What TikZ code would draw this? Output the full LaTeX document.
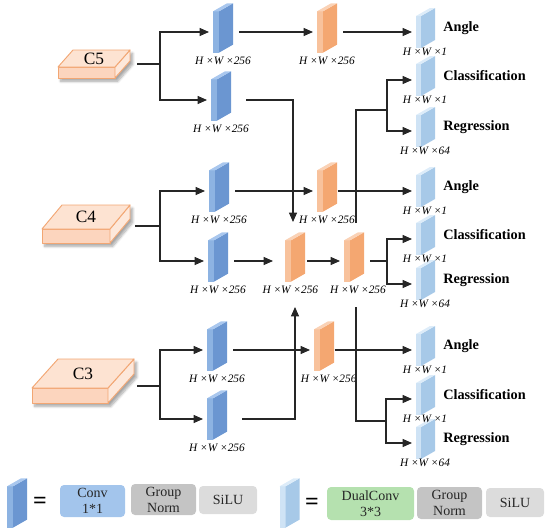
\documentclass[tikz,border=0pt]{standalone}
\usepackage{fontspec}
\setmainfont{Liberation Serif}
\usetikzlibrary{arrows.meta,positioning,calc,shadows.blur}

\definecolor{convfront}{HTML}{8DB3E2}
\definecolor{convside}{HTML}{6B96D1}
\definecolor{convtop}{HTML}{A9C7EE}
\definecolor{fusefront}{HTML}{F8C29C}
\definecolor{fuseside}{HTML}{F4A771}
\definecolor{fusetop}{HTML}{FAD2B6}
\definecolor{headfront}{HTML}{CFE3F5}
\definecolor{headside}{HTML}{A7C9E8}
\definecolor{headtop}{HTML}{DDECF9}
\definecolor{mapedge}{HTML}{F2A673}
\definecolor{maptop}{HTML}{FDE3D2}
\definecolor{mapfront}{HTML}{FCD5BE}
\definecolor{mapside}{HTML}{FDE8DB}
\definecolor{convfill}{HTML}{A3C5EC}
\definecolor{dualfill}{HTML}{B5E1AF}
\definecolor{normfill}{HTML}{C4C4C4}
\definecolor{silufill}{HTML}{DCDCDC}

\tikzset{
  link/.style={draw=black!85, line width=0.8pt},
  arr/.style={link, -{Triangle[length=7pt,width=6pt]}, shorten >=3pt},
  from slab/.style={shorten <=#1},
  from slab/.default=15pt,
  thin slab/.style={minimum width=4.5pt, minimum height=31pt},
  head slab/.style={minimum width=3.75pt, minimum height=24pt},
  slabface/.style={inner sep=0pt, outer sep=0pt, fill=#1front},
  dimlbl/.style={font=\fontsize{8.5}{10}\selectfont\itshape, inner sep=0pt, xshift=3pt},
  headlbl/.style={font=\fontsize{10.7}{12}\selectfont\bfseries, inner sep=0pt, yshift=3pt},
  maplbl/.style={font=\fontsize{13}{14}\selectfont, inner sep=0pt},
  mapface/.style={draw=mapedge, line width=0.7pt, line join=round},
  legbox/.style={rounded corners=3pt, align=center, inner sep=0pt,
    font=\fontsize{10.5}{12}\selectfont, text=black!85},
  eqsign/.style={font=\fontsize{18}{18}\selectfont\bfseries},
}

% thin 3D slab: name, front-face centre, colour set, size style
\newcommand{\slab}[4]{%
  \node[slabface=#3, #4] (#1) at (#2) {};
  \fill[#3side] (#1.north east) -- ++(14,-8) -- ([shift={(14,-8)}]#1.south east) -- (#1.south east) -- cycle;
  \fill[#3top] (#1.north west) -- ++(14,-8) -- ([shift={(14,-8)}]#1.north east) -- (#1.north east) -- cycle;
}

% backbone feature map: name, front top-left, width, thickness, depth x, depth y, text
\newcommand{\featmap}[7]{%
  \path (#2) coordinate (#1A) ++(#3,0) coordinate (#1B) ++(#5,#6) coordinate (#1Bk) ++(0,#4) coordinate (#1Ck);
  \path (#2) ++(#5,#6) coordinate (#1Ak);
  \path (#2) ++(0,#4) coordinate (#1D);
  \path (#1B) ++(0,#4) coordinate (#1C);
  \fill[white, blur shadow={shadow xshift=2pt, shadow yshift=-2.5pt, shadow blur steps=8, shadow opacity=35}]
    (#1D) -- (#1A) -- (#1Ak) -- (#1Bk) -- (#1Ck) -- (#1C) -- cycle;
  \filldraw[mapface, fill=mapfront] (#1A) rectangle (#1C);
  \filldraw[mapface, fill=mapside] (#1B) -- (#1Bk) -- (#1Ck) -- (#1C) -- cycle;
  \filldraw[mapface, fill=maptop] (#1A) -- (#1Ak) -- (#1Bk) -- (#1B) -- cycle;
  \node[maplbl] (#1) at ($(#1A)!0.5!(#1Bk)$) {#7};
}

\begin{document}
\begin{tikzpicture}[x=0.75pt, y=-0.75pt]
  \useasboundingbox (0,0) rectangle (550,532);

  % backbone maps
  \featmap{c5}{58,67}{57}{11}{15}{-17}{C5}
  \featmap{c4}{42,229}{68}{14}{20}{-24}{C4}
  \featmap{c3}{32,388}{76}{15}{26}{-29}{C3}
  \coordinate (c5 out) at (137,64);
  \coordinate (c4 out) at (135,226);
  \coordinate (c3 out) at (137,386);

  % 1*1 conv slabs
  \slab{b51}{216,32}{conv}{thin slab}
  \slab{b52}{214,100}{conv}{thin slab}
  \slab{b41}{212,191}{conv}{thin slab}
  \slab{b42}{211,261}{conv}{thin slab}
  \slab{b31}{210,350}{conv}{thin slab}
  \slab{b32}{210,419}{conv}{thin slab}

  % fused maps
  \slab{o5}{320,32}{fuse}{thin slab}
  \slab{oT}{320,191}{fuse}{thin slab}
  \slab{oA}{288,261}{fuse}{thin slab}
  \slab{oB}{347,261}{fuse}{thin slab}
  \slab{oC}{317,350}{fuse}{thin slab}

  % head outputs
  \slab{a5}{418.5,32}{head}{head slab}
  \slab{s5}{418.5,80}{head}{head slab}
  \slab{r5}{418.5,131}{head}{head slab}
  \slab{a4}{418.5,191}{head}{head slab}
  \slab{s4}{418.5,239}{head}{head slab}
  \slab{r4}{418.5,284}{head}{head slab}
  \slab{a3}{418.5,350}{head}{head slab}
  \slab{s3}{418.5,399}{head}{head slab}
  \slab{r3}{418.5,443}{head}{head slab}

  % size labels
  \node[dimlbl, below=3pt of b51.south east] (l51) {H ×W ×256};
  \node[dimlbl, below=3pt of b52.south east] (l52) {H ×W ×256};
  \node[dimlbl, below=3pt of b41.south east] (l41) {H ×W ×256};
  \node[dimlbl, below=3pt of b42.south east] (l42) {H ×W ×256};
  \node[dimlbl, below=3pt of b31.south east] (l31) {H ×W ×256};
  \node[dimlbl, below=3pt of b32.south east] (l32) {H ×W ×256};
  \node[dimlbl, below=3pt of o5.south east] (lo5) {H ×W ×256};
  \node[dimlbl, below=3pt of oT.south east] (loT) {H ×W ×256};
  \node[dimlbl, below=3pt of oA.south east, xshift=-3.5pt] (loA) {H ×W ×256};
  \node[dimlbl, below=3pt of oB.south east, xshift=3pt] (loB) {H ×W ×256};
  \node[dimlbl, below=3pt of oC.south east, xshift=3.5pt] (loC) {H ×W ×256};
  \foreach \h/\c in {a5/1, s5/1, r5/64, a4/1, s4/1, r4/64, a3/1, s3/1, r3/64}
    \node[dimlbl, below=0pt of \h.south east] (l\h) {H ×W ×\c};

  % head names
  \foreach \h/\t in {a5/Angle, s5/Classification, r5/Regression,
                     a4/Angle, s4/Classification, r4/Regression,
                     a3/Angle, s3/Classification, r3/Regression}
    \node[headlbl, anchor=west, right=16.5pt of \h] (t\h) {\t};

  % level 5
  \coordinate (j5) at (160,64);
  \draw[link] (c5 out) -- (j5);
  \draw[arr] (j5) |- (b51);
  \draw[arr] (j5) |- (b52);
  \draw[arr, from slab] (b51) -- (o5);
  \draw[arr, from slab] (o5) -- (a5);
  \coordinate (d5) at (293,222);
  \draw[arr, from slab=22pt, shorten >=0pt] (b52) -| (d5);
  \coordinate (u5) at (356,223);
  \coordinate (k5) at (387,110);
  \draw[link] (u5) |- (k5);
  \draw[arr] (k5) |- (s5);
  \draw[arr] (k5) |- (r5);

  % level 4
  \coordinate (j4) at (160,226);
  \draw[link] (c4 out) -- (j4);
  \draw[arr] (j4) |- (b41);
  \draw[arr] (j4) |- (b42);
  \draw[arr, from slab] (b41) -- (oT);
  \draw[arr, from slab=11pt] (oT) -- (a4);
  \draw[arr, from slab, shorten >=9pt] (b42) -- (oA);
  \draw[arr, from slab=12pt] (oA) -- (oB);
  \coordinate (k4) at (387,261);
  \draw[link, from slab] (oB) -- (k4);
  \draw[arr] (k4) |- (s4);
  \draw[arr] (k4) |- (r4);

  % level 3
  \coordinate (j3) at (160,386);
  \draw[link] (c3 out) -- (j3);
  \draw[arr] (j3) |- (b31);
  \draw[arr] (j3) |- (b32);
  \draw[arr, from slab] (b31) -- (oC);
  \draw[arr, from slab=11pt] (oC) -- (a3);
  \coordinate (d3) at (295,307);
  \draw[arr, from slab=22pt, shorten >=0pt] (b32) -| (d3);
  \coordinate (u3) at (356,307);
  \coordinate (k3) at (386,421);
  \draw[link] (u3) |- (k3);
  \draw[arr] (k3) |- (s3);
  \draw[arr] (k3) |- (r3);

  % legend
  \slab{lg1}{10,507}{conv}{thin slab}
  \node[eqsign] (eq1) at (40,503) {=};
  \node[legbox, fill=convfill, minimum width=48.75pt, minimum height=24pt] (conv) at (92.5,501) {Conv\\1*1};
  \node[legbox, fill=normfill, minimum width=48.75pt, minimum height=23.25pt] (gn1) at (163.5,499.5) {Group\\Norm};
  \node[legbox, fill=silufill, minimum width=43.5pt, minimum height=21pt] (silu1) at (228,500) {SiLU};
  \slab{lg2}{282.5,507}{head}{thin slab}
  \node[eqsign] (eq2) at (312,504) {=};
  \node[legbox, fill=dualfill, minimum width=65.25pt, minimum height=24.75pt] (dual) at (370.5,503.5) {DualConv\\3*3};
  \node[legbox, fill=normfill, minimum width=48.75pt, minimum height=24pt] (gn2) at (449.5,503) {Group\\Norm};
  \node[legbox, fill=silufill, minimum width=43.5pt, minimum height=21.75pt] (silu2) at (515,502.5) {SiLU};
\end{tikzpicture}
\end{document}
